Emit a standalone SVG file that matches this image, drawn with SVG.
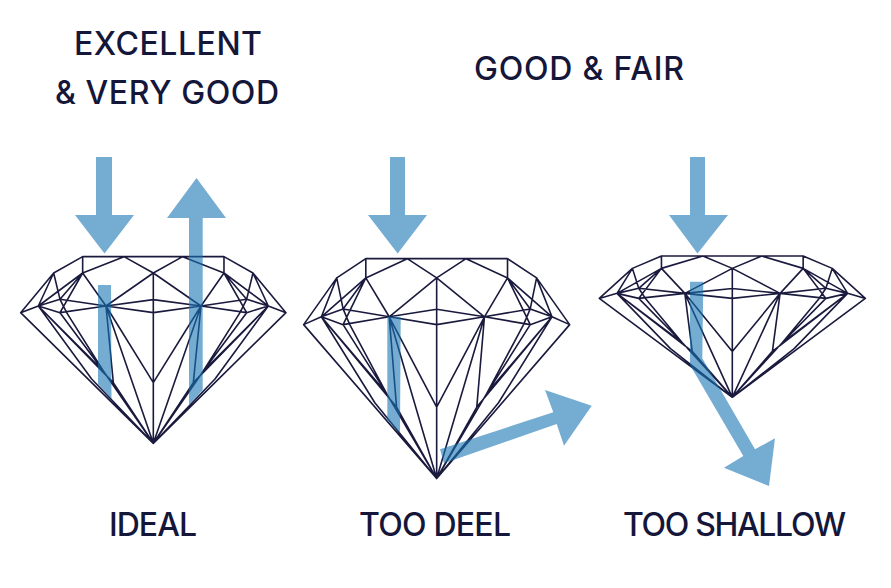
<svg xmlns="http://www.w3.org/2000/svg" width="891" height="588" viewBox="0 0 891 588">
<style>
text{font-family:"Inter","Liberation Sans",sans-serif;font-size:32px;font-weight:500;fill:#14163a}
.d{fill:none;stroke:#1a1a3e;stroke-width:1.6;stroke-linejoin:round;vector-effect:non-scaling-stroke}
.a{fill:#1975b4;fill-opacity:.6}
</style>
<defs>
<path id="gem" class="d" d="M32 218L131 99L218 50L642 50L729 99L828 218L430 610ZM218 50V99M642 50V99M218 99L342 50L430 99L518 50L642 99M430 99L288 198M430 99L573 198M218 99L288 198M642 99L573 198M430 99V610M131 99L85 198M729 99L775 198M131 99L150 178L170 218M729 99L710 178L690 218M218 99L85 198M642 99L775 198M218 99L150 178M642 99L710 178M218 99L150 218M642 99L710 218M32 218L85 198M828 218L775 198M85 198L150 178L288 198L430 179L573 198L710 178L775 198M85 198L150 218L288 198L430 218L573 198L710 218L775 198M85 198L280 393L430 610M775 198L580 393L430 610M85 198L310 428L430 610M775 198L550 428L430 610M85 198L245 417L430 610M775 198L615 417L430 610M150 218L280 393M710 218L580 393M170 218L280 393M690 218L580 393M288 198L310 428M573 198L550 428M288 198L430 428L573 198M288 198L430 610M573 198L430 610"/>
</defs>
<g id="diamond-ideal"><use href="#gem" transform="translate(10 240) scale(.3333)"/></g>
<g id="diamond-deep"><use href="#gem" transform="matrix(.3342 0 0 .3927 292.96 239.03)"/></g>
<g id="diamond-shallow"><use href="#gem" transform="matrix(.3342 0 0 .2523 588.6 243.4)"/></g>
<g id="connectors">
<polygon class="a" points="96,157 112,157 112,215 134,215 104.5,253.5 75,215 96,215"/>
<polygon class="a" points="98,285 111,285 111.5,399 98,384"/>
<polygon class="a" points="189,405 189,218 167,218 196.5,178 226,218 202.7,218 202.7,390"/>
<polygon class="a" points="390,157 405,157 405,215 427,215 397.7,253.5 368,215 390,215"/>
<polygon class="a" points="387.3,316.7 400.7,316.7 400,433 387.3,420"/>
<polygon class="a" points="440,449.3 553.3,412.3 545,390 591.7,405.7 564,445.7 556.7,424 444,463.3"/>
<polygon class="a" points="690,157 705,157 705,215 728,215 697.5,253.5 669,215 690,215"/>
<polygon class="a" points="690,281.7 703.3,281.7 702.3,358.3 755,449.3 775,438.3 769,486 724,467.7 743.3,456 690,365"/>
</g>
<g id="labels">
<text x="74" y="55" textLength="188">EXCELLENT</text>
<text x="55" y="104" textLength="224">&amp; VERY GOOD</text>
<text x="474" y="80" textLength="210">GOOD &amp; FAIR</text>
<text x="109" y="536" textLength="88">IDEAL</text>
<text x="359" y="536" textLength="152">TOO DEEL</text>
<text x="623" y="536" textLength="223">TOO SHALLOW</text>
</g>
</svg>
